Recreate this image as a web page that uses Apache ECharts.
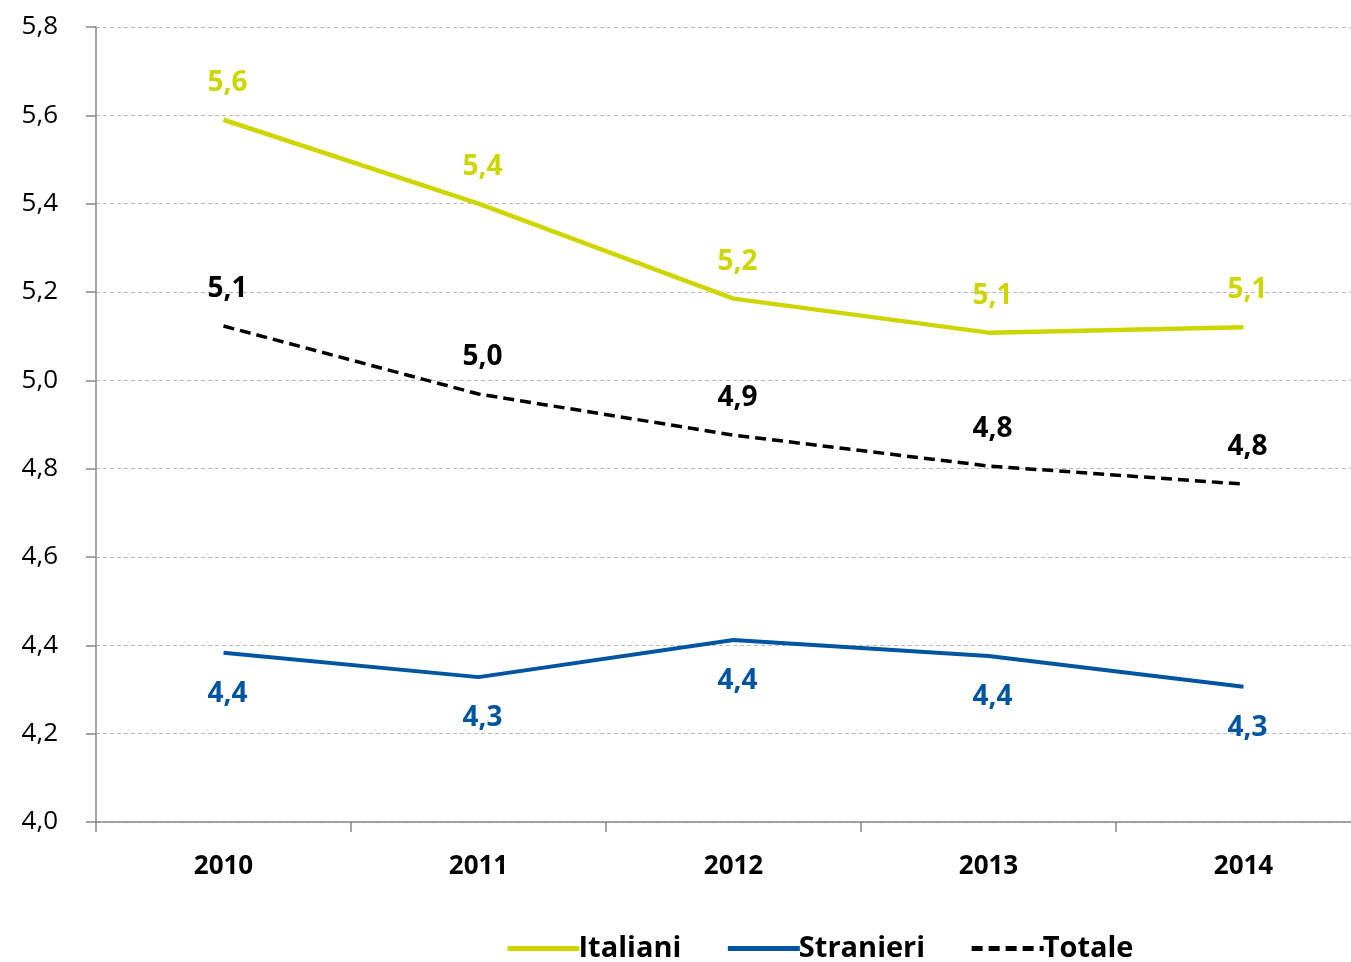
<!DOCTYPE html>
<html>
<head>
<meta charset="utf-8">
<script src="https://cdn.jsdelivr.net/npm/echarts@6/dist/echarts.min.js"></script>
<style>
  html, body { margin: 0; padding: 0; background: #fff; }
  #chart1 { width: 1351px; height: 962px; }
</style>
</head>
<body>
<div id="chart1"></div>
<script>
var anni = ['2010', '2011', '2012', '2013', '2014'];
var italiani = [5.59, 5.40, 5.185, 5.108, 5.12];
var stranieri = [4.383, 4.328, 4.412, 4.376, 4.306];
var totale = [5.123, 4.969, 4.876, 4.806, 4.765];

var fmt = function (v) { return v.toFixed(1).replace('.', ','); };
var myChart1 = echarts.init(document.getElementById('chart1'));

function serie(nome, dati, colore, pos, tipo, larg) {
    return {
        name: nome,
        type: 'line',
        data: dati,
        symbol: 'circle',
        symbolSize: 2,
        color: colore,
        itemStyle: { opacity: 0 },
        lineStyle: { width: larg, color: colore, type: tipo },
        label: {
            show: true, position: pos, distance: pos === 'top' ? 22 : 26, offset: [4, 0],
            fontSize: 28, fontWeight: 'bold', color: colore, opacity: 1,
            formatter: function (p) { return fmt(p.value); }
        }
    };
}

myChart1.setOption({
    animation: false,
    textStyle: { fontFamily: 'Open Sans' },
    grid: { left: 96, top: 27, width: 1275, height: 795, outerBoundsMode: 'none' },
    legend: {
        bottom: -6,
        left: 500,
        itemWidth: 72,
        itemHeight: 14,
        itemGap: 44,
        lineStyle: { width: 5 },
        textStyle: { fontSize: 29, fontWeight: 'bold', color: '#000', padding: [0, 0, 0, -6] },
        data: ['Italiani', 'Stranieri', 'Totale']
    },
    xAxis: {
        type: 'category',
        data: anni,
        axisLine: { show: true, lineStyle: { color: '#888', width: 1.5 } },
        axisTick: { show: true, length: 10, lineStyle: { color: '#888', width: 1.5 } },
        axisLabel: { fontSize: 26, fontWeight: 'bold', color: '#000', margin: 32 }
    },
    yAxis: {
        type: 'value',
        min: 4.0,
        max: 5.8,
        interval: 0.2,
        axisLine: { show: true, lineStyle: { color: '#888', width: 1.5 } },
        axisTick: { show: true, length: 10, lineStyle: { color: '#888', width: 1.5 } },
        axisLabel: { fontSize: 26, color: '#000', margin: 38, formatter: fmt },
        splitLine: { lineStyle: { color: '#bbb', type: [4, 3] } }
    },
    series: [
        serie('Italiani', italiani, '#cdd600', 'top', 'solid', 4.5),
        serie('Stranieri', stranieri, '#0055a0', 'bottom', 'solid', 4),
        serie('Totale', totale, '#000000', 'top', [11, 6], 3.5)
    ]
});

window.onresize = function () {
    myChart1.resize();
};
</script>
</body>
</html>
